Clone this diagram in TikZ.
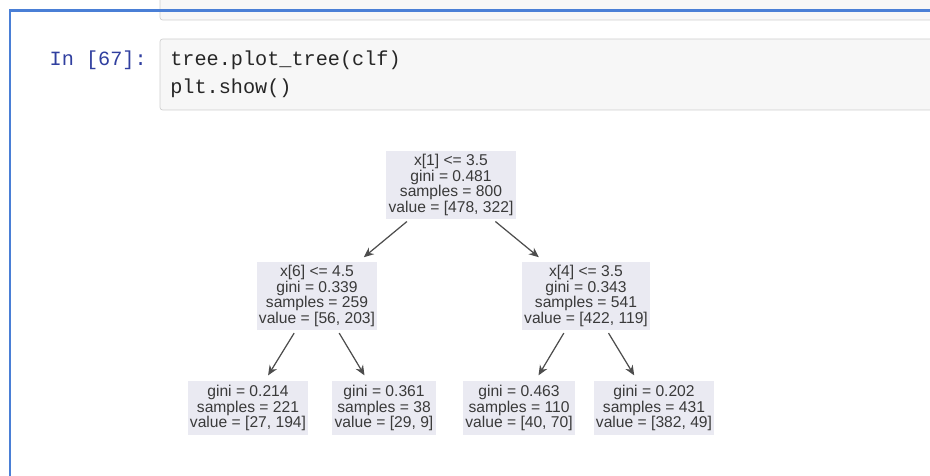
\documentclass[tikz,border=0pt]{standalone}
\usepackage{fontspec}
\setsansfont{Liberation Sans}
\setmonofont{Liberation Mono}
\usetikzlibrary{arrows.meta}
\definecolor{nbblue}{HTML}{4A7FD6}
\definecolor{nbprompt}{HTML}{303F9F}
\definecolor{nbcell}{HTML}{F7F7F7}
\definecolor{nbedge}{HTML}{CFCFCF}
\definecolor{trfill}{HTML}{EAEAF2}
\definecolor{trink}{HTML}{3A3A3A}
\definecolor{trarrow}{HTML}{4D4D4D}
\tikzset{
  cell/.style={draw=nbedge, fill=nbcell, rounded corners=1.5pt},
  frame/.style={draw=nbblue, line width=1.2pt},
  prompt/.style={anchor=base east, inner sep=0pt, text=nbprompt, font=\fontsize{11.5}{14}\ttfamily},
  code/.style={anchor=base west, inner sep=0pt, text=black!85, font=\fontsize{11.5}{14}\ttfamily},
  tnode/.style={fill=trfill, align=center, inner xsep=1.3pt, inner ysep=1pt, text=trink, font=\fontsize{8.9}{9.05}\sffamily},
  split/.style={tnode, minimum height=1.38cm},
  leaf/.style={tnode, minimum height=1.08cm},
  edge/.style={-{Stealth[length=2mm, width=1.7mm]}, line width=0.7pt, color=trarrow, shorten <=1.5pt, shorten >=3.5pt},
}

\begin{document}
\begin{tikzpicture}[x=0.02cm, y=-0.02cm]
  \useasboundingbox (0,0) rectangle (930,476);
  % notebook cells
  \path[cell] (160,-20) rectangle (945,20);
  \path[cell] (160,39) rectangle (945,110);
  \draw[frame] (945,10.5) -- (10,10.5) -- (10,490);
  \node[prompt] (inp) at (147,66) {In [67]:};
  \node[code] (ln1) at (170,66) {tree.plot\_tree(clf)};
  \node[code] (ln2) at (170,94) {plt.show()};
  % tree
  \node[split] (n0) at (451,185) {x[1] <= 3.5\\gini = 0.481\\samples = 800\\value = [478, 322]};
  \node[split] (n1) at (317,296) {x[6] <= 4.5\\gini = 0.339\\samples = 259\\value = [56, 203]};
  \node[split] (n4) at (586,296) {x[4] <= 3.5\\gini = 0.343\\samples = 541\\value = [422, 119]};
  \node[leaf] (n2) at (248,408) {gini = 0.214\\samples = 221\\value = [27, 194]};
  \node[leaf] (n3) at (384,408) {gini = 0.361\\samples = 38\\value = [29, 9]};
  \node[leaf] (n5) at (519,408) {gini = 0.463\\samples = 110\\value = [40, 70]};
  \node[leaf] (n6) at (654,408) {gini = 0.202\\samples = 431\\value = [382, 49]};
  \draw[edge] (n0) -- (n1);
  \draw[edge] (n0) -- (n4);
  \draw[edge] (n1) -- (n2);
  \draw[edge] (n1) -- (n3);
  \draw[edge] (n4) -- (n5);
  \draw[edge] (n4) -- (n6);
\end{tikzpicture}
\end{document}
